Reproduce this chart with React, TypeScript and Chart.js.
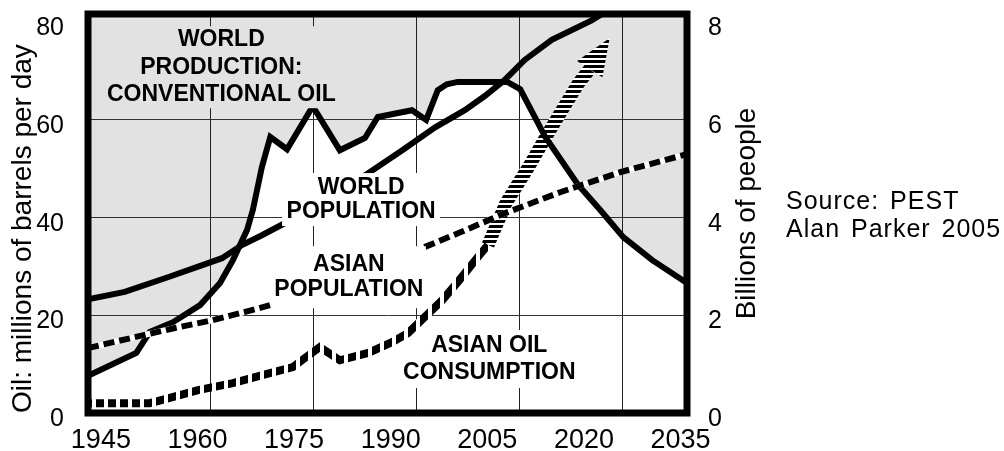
import React, { useEffect, useRef } from 'react';
import { Chart, registerables } from 'chart.js';

Chart.register(...registerables);

// ---------- data ----------
const xTickYears = [1945, 1960, 1975, 1990, 2005, 2020, 2035];
const xGridYears = [1962, 1978, 1994, 2010, 2026];
const oilTicks = [0, 20, 40, 60, 80];
const popTicks = [0, 2, 4, 6, 8];
const oilGridValues = [20, 40, 60];

// World production: conventional oil (millions of barrels per day)
const oilYears = [1943, 1950.5, 1952.6, 1956.2, 1960.4, 1963.5, 1965.5, 1967.7, 1968.6, 1970.0, 1971.3, 1973.9, 1977.9, 1982.1, 1986.0, 1988.0, 1993.3, 1995.5, 1997.3, 1998.7, 2000.4, 2008.1, 2010.1, 2014.0, 2019.1, 2022.5, 2026.1, 2030.6, 2036];
const oilValues = [7.6, 12.3, 16.6, 18.6, 22.1, 26.6, 31.3, 37.5, 41.6, 50.4, 56.5, 54.0, 62.8, 53.8, 56.3, 60.6, 62.0, 60.0, 66.1, 67.3, 67.8, 67.8, 66.3, 56.5, 46.7, 41.6, 36.0, 31.3, 26.6];

// World population (billions)
const worldPopYears = [1943, 1948.7, 1955.4, 1961.2, 1963.8, 1966.9, 1970.0, 1973.6, 1986.5, 1991.8, 1996.9, 2001.5, 2004.6, 2007.7, 2010.8, 2015.0, 2021.2, 2023.3];
const worldPopValues = [2.33, 2.48, 2.78, 3.05, 3.17, 3.44, 3.64, 3.89, 4.91, 5.38, 5.85, 6.20, 6.49, 6.82, 7.23, 7.64, 8.04, 8.21];

// Asian population (billions)
const asianPopYears = [1943, 1951.8, 1956.5, 1962.3, 1967.4, 1971.3, 1994.2, 2000.8, 2007.7, 2016.3, 2025.6, 2036];
const asianPopValues = [1.33, 1.60, 1.74, 1.90, 2.07, 2.21, 3.34, 3.70, 4.09, 4.52, 4.93, 5.30];

// Asian oil consumption (millions of barrels per day) - historical
const asianOilYears = [1943, 1952.6, 1955.7, 1960.1, 1965.5, 1970.2, 1974.8, 1976.7, 1979.0, 1982.1, 1986.5, 1990.2, 1992.7, 1995.3, 1998.0, 2000.4, 2003.5, 2005.1];
const asianOilValues = [2.0, 2.0, 3.1, 4.7, 6.1, 7.8, 9.4, 11.3, 13.5, 10.8, 12.3, 14.5, 16.4, 19.7, 23.1, 26.8, 31.9, 34.4];

// Asian oil consumption - projection (hatched arrow, last point = arrow tip)
const asianOilProjYears = [2005.1, 2007.9, 2011.5, 2014.0, 2016.6, 2019.2, 2020.9, 2024.0];
const asianOilProjValues = [34.4, 43.0, 50.6, 56.3, 62.0, 67.6, 70.4, 76.8];

const labelTexts = [
  ['WORLD', 'PRODUCTION:', 'CONVENTIONAL OIL'],
  ['WORLD', 'POPULATION'],
  ['ASIAN', 'POPULATION'],
  ['ASIAN OIL', 'CONSUMPTION'],
];

// ---------- styles ----------
const FONT = 'Arial, "Liberation Sans", Helvetica, sans-serif';
const GRAY = '#e2e2e2';

// label anchors in data units (x: year, y: oil axis), box sizes in px
const labelLayout = [
  { year: 1963.7, value: 70.8, w: 236, h: 82, gap: 27.5, bg: GRAY },
  { year: 1985.4, value: 43.7, w: 158, h: 53, gap: 24, bg: '#ffffff' },
  { year: 1983.5, value: 27.8, w: 154, h: 62, gap: 25, bg: '#ffffff' },
  { year: 2005.3, value: 11.05, w: 184, h: 58, gap: 27, bg: '#ffffff' },
];

const pts = (xs: number[], ys: number[]) => xs.map((x, i) => ({ x, y: ys[i] }));

function makePattern(ctx: CanvasRenderingContext2D, w: number, h: number, draw: (c: CanvasRenderingContext2D) => void) {
  const c = document.createElement('canvas');
  c.width = w;
  c.height = h;
  const cc = c.getContext('2d')!;
  cc.fillStyle = '#ffffff';
  cc.fillRect(0, 0, w, h);
  cc.fillStyle = '#000000';
  draw(cc);
  return ctx.createPattern(c, 'repeat')!;
}

export default function App() {
  const ref = useRef<HTMLCanvasElement>(null);

  useEffect(() => {
    const canvas = ref.current!;
    const ctx0 = canvas.getContext('2d')!;
    const vStripes = makePattern(ctx0, 12, 1, (c) => c.fillRect(0, 0, 8, 1));
    const hStripes = makePattern(ctx0, 1, 5, (c) => c.fillRect(0, 0, 1, 3));

    const LOWER_IDX = 0;
    const HATCH_IDX = 4;

    const overlay = {
      id: 'overlay',
      beforeDatasetDraw(chart: any, args: any) {
        if (args.index !== LOWER_IDX) return;
        const ctx = chart.ctx;
        const xs = chart.scales.x;
        const ys = chart.scales.y;
        ctx.save();
        labelLayout.forEach((lb, k) => {
          const cx = xs.getPixelForValue(lb.year);
          const cy = ys.getPixelForValue(lb.value);
          ctx.fillStyle = lb.bg;
          ctx.fillRect(cx - lb.w / 2, cy - lb.h / 2, lb.w, lb.h);
          ctx.fillStyle = '#000';
          ctx.font = `bold 23px ${FONT}`;
          ctx.textAlign = 'center';
          ctx.textBaseline = 'middle';
          const lines = labelTexts[k];
          const n = lines.length;
          lines.forEach((t, i) => ctx.fillText(t, cx, cy + (i - (n - 1) / 2) * lb.gap));
        });
        ctx.restore();
      },
      afterDatasetDraw(chart: any, args: any) {
        if (args.index !== HATCH_IDX) return;
        const meta = chart.getDatasetMeta(HATCH_IDX);
        const p = meta.data;
        const n = p.length;
        const b = p[n - 2];
        const t = p[n - 1];
        const dx = t.x - b.x;
        const dy = t.y - b.y;
        const len = Math.hypot(dx, dy);
        const px = -dy / len;
        const py = dx / len;
        const hw = 15;
        const ctx = chart.ctx;
        ctx.save();
        ctx.beginPath();
        ctx.moveTo(t.x, t.y);
        ctx.lineTo(b.x + px * hw, b.y + py * hw);
        ctx.lineTo(b.x - px * hw, b.y - py * hw);
        ctx.closePath();
        ctx.fillStyle = hStripes;
        ctx.fill();
        ctx.restore();
      },
      afterDatasetsDraw(chart: any) {
        const { ctx, chartArea: a } = chart;
        ctx.save();
        ctx.strokeStyle = '#000';
        ctx.lineWidth = 7;
        ctx.strokeRect(a.left, a.top, a.right - a.left, a.bottom - a.top);
        ctx.restore();
      },
      afterDraw(chart: any) {
        const { ctx, chartArea: a } = chart;
        ctx.save();
        ctx.fillStyle = '#000';
        ctx.translate(a.right + 68, (a.top + a.bottom) / 2);
        ctx.rotate(-Math.PI / 2);
        ctx.font = `28px ${FONT}`;
        ctx.textAlign = 'center';
        ctx.textBaseline = 'alphabetic';
        ctx.fillText('Billions of people', 0, 0);
        ctx.restore();

        ctx.save();
        ctx.fillStyle = '#000';
        ctx.font = `25px ${FONT}`;
        try {
          (ctx as any).letterSpacing = '1px';
          (ctx as any).wordSpacing = '3px';
        } catch (e) {}
        ctx.textAlign = 'left';
        ctx.textBaseline = 'middle';
        ctx.fillText('Source: PEST', a.right + 99, 202);
        ctx.fillText('Alan Parker 2005', a.right + 99, 230);
        ctx.restore();
      },
    };

    const noVPad = (s: any) => {
      s.paddingTop = 0;
      s.paddingBottom = 0;
    };

    const chart = new Chart(canvas, {
      type: 'line',
      data: {
        datasets: [
          {
            label: 'Asian oil consumption',
            data: pts(asianOilYears, asianOilValues),
            yAxisID: 'y',
            borderColor: vStripes as any,
            borderWidth: 8,
            pointRadius: 0,
            fill: false,
            tension: 0,
          },
          {
            label: 'Asian population',
            data: pts(asianPopYears, asianPopValues),
            yAxisID: 'y2',
            borderColor: '#000',
            borderWidth: 6,
            borderDash: [11, 5],
            pointRadius: 0,
            fill: false,
          },
          {
            label: 'Asian population (base)',
            data: pts(asianPopYears, asianPopValues),
            yAxisID: 'y2',
            borderColor: '#ffffff',
            borderWidth: 6,
            pointRadius: 0,
            fill: false,
          },
          {
            label: 'World production: conventional oil',
            data: pts(oilYears, oilValues),
            yAxisID: 'y',
            borderColor: '#000',
            borderWidth: 6,
            pointRadius: 0,
            fill: 'end',
            backgroundColor: GRAY,
          },
          {
            label: 'Asian oil consumption (projection)',
            data: pts(asianOilProjYears, asianOilProjValues),
            yAxisID: 'y',
            borderColor: hStripes as any,
            borderWidth: 13,
            pointRadius: 0,
            fill: false,
            segment: {
              borderColor: (c: any) =>
                c.p1DataIndex === asianOilProjYears.length - 1 ? 'rgba(0,0,0,0)' : undefined,
            },
          },
          {
            label: 'World population',
            data: pts(worldPopYears, worldPopValues),
            yAxisID: 'y2',
            borderColor: '#000',
            borderWidth: 6,
            pointRadius: 0,
            fill: false,
          },
        ],
      },
      options: {
        responsive: false,
        devicePixelRatio: 1,
        animation: false,
        layout: { padding: { top: 14, left: 0, right: 0, bottom: 0 } },
        plugins: {
          legend: { display: false },
          tooltip: { enabled: false },
          filler: { drawTime: 'beforeDraw' },
        } as any,
        scales: {
          x: {
            type: 'linear',
            position: 'bottom',
            min: 1943,
            max: 2036,
            afterBuildTicks: (s: any) => {
              s.ticks = [...xTickYears, ...xGridYears].sort((a, b) => a - b).map((v) => ({ value: v }));
            },
            afterFit: (s: any) => {
              s.height = 38;
              s.paddingLeft = 0;
              s.paddingRight = 0;
            },
            ticks: {
              autoSkip: false,
              maxRotation: 0,
              minRotation: 0,
              padding: 11,
              color: '#000',
              font: { family: FONT, size: 27 },
              callback: (v: any) => (xTickYears.includes(v) ? String(v) : ''),
            },
            grid: {
              drawTicks: false,
              lineWidth: 1,
              color: (c: any) => (xGridYears.includes(c.tick?.value) ? '#222' : 'rgba(0,0,0,0)'),
            },
            border: { display: false },
          },
          y: {
            type: 'linear',
            position: 'left',
            min: 0,
            max: 81.7,
            afterBuildTicks: (s: any) => {
              s.ticks = oilTicks.map((v) => ({ value: v }));
            },
            afterFit: (s: any) => {
              s.width = 88;
              noVPad(s);
            },
            ticks: {
              padding: 24,
              labelOffset: 6,
              color: '#000',
              font: { family: FONT, size: 25 },
              callback: (v: any) => String(v),
            },
            grid: {
              drawTicks: false,
              lineWidth: 1,
              color: (c: any) => (oilGridValues.includes(c.tick?.value) ? '#333' : 'rgba(0,0,0,0)'),
            },
            border: { display: false },
            title: {
              display: true,
              text: 'Oil: millions of barrels per day',
              align: 'start',
              color: '#000',
              font: { family: FONT, size: 28 },
              padding: { top: 6.5, bottom: 0 },
            },
          },
          y2: {
            type: 'linear',
            position: 'right',
            min: 0,
            max: 8.17,
            afterBuildTicks: (s: any) => {
              s.ticks = popTicks.map((v) => ({ value: v }));
            },
            afterFit: (s: any) => {
              s.width = 317;
              noVPad(s);
            },
            ticks: {
              padding: 13,
              labelOffset: 6,
              color: '#000',
              font: { family: FONT, size: 25 },
              callback: (v: any) => String(v),
            },
            grid: { display: false },
            border: { display: false },
          },
        } as any,
      },
      plugins: [overlay as any],
    } as any);

    return () => chart.destroy();
  }, []);

  return (
    <div style={{ position: 'fixed', left: 0, top: 0, width: 1004, height: 451, background: '#ffffff' }}>
      <canvas ref={ref} width={1004} height={451} style={{ display: 'block', width: 1004, height: 451 }} />
    </div>
  );
}
